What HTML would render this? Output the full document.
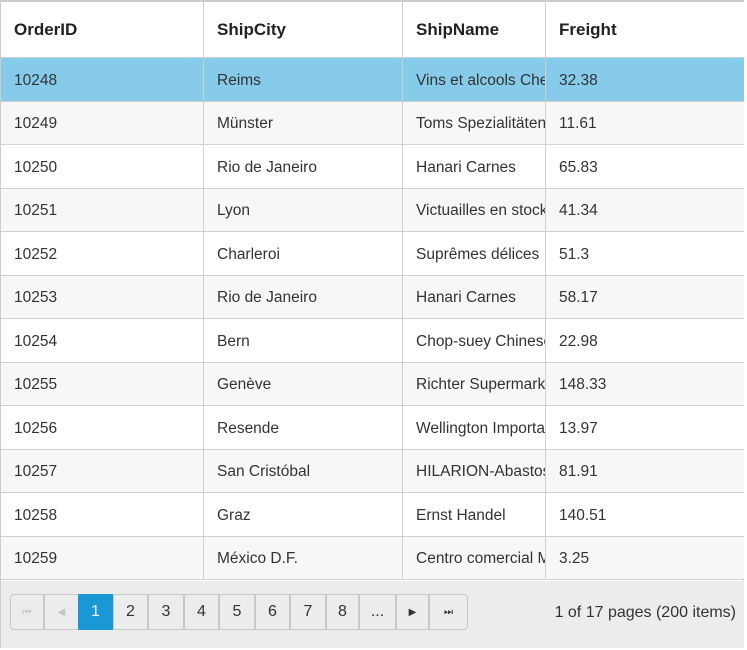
<!DOCTYPE html>
<html><head><meta charset="utf-8"><style>
body{margin:0;width:747px;height:650px;background:#fff;font-family:"Liberation Sans",sans-serif;overflow:hidden}
#grid{position:absolute;left:0;top:0;width:744px;height:648px;border:1px solid #ccc;border-top:2px solid #ccc;box-sizing:border-box}
.row{position:absolute;left:0;width:743px;border-bottom:1px solid #d0d0d0;box-sizing:border-box}
.cell{position:absolute;top:0;height:100%;display:flex;align-items:center;padding-left:13px;padding-top:3px;box-sizing:border-box;font-size:15.5px;color:#333;white-space:nowrap;overflow:hidden;border-left:1px solid #d0d0d0}
.hdr .cell{font-weight:bold;color:#222;font-size:17px;padding-top:1px}
#pager{position:absolute;left:0;top:579px;width:743px;height:67px;background:#ececec}
.pb{position:absolute;top:13px;height:36px;border:1px solid #c8c8c8;box-sizing:border-box;display:flex;align-items:center;justify-content:center;font-size:16px;color:#333;background:#ececec}
</style></head><body>
<div id="grid"></div>
<script>
const headers=["OrderID","ShipCity","ShipName","Freight"];
const ids=["10248","10249","10250","10251","10252","10253","10254","10255","10256","10257","10258","10259"];
const cities=["Reims","Münster","Rio de Janeiro","Lyon","Charleroi","Rio de Janeiro","Bern","Genève","Resende","San Cristóbal","Graz","México D.F."];
const names=["Vins et alcools Chevalier","Toms Spezialitäten","Hanari Carnes","Victuailles en stock","Suprêmes délices","Hanari Carnes","Chop-suey Chinese","Richter Supermarkt","Wellington Importadora","HILARION-Abastos","Ernst Handel","Centro comercial Moctezuma"];
const freight=["32.38","11.61","65.83","41.34","51.3","58.17","22.98","148.33","13.97","81.91","140.51","3.25"];
const colX=[0,202,401,544,743];
const g=document.getElementById('grid');
function mkRow(top,h,vals,cls,bg){
  const r=document.createElement('div');r.className='row '+cls;
  r.style.top=top+'px';r.style.height=h+'px';r.style.background=bg;
  
  
  vals.forEach((v,i)=>{const c=document.createElement('div');c.className='cell';
    c.style.left=colX[i]+'px';c.style.width=(colX[i+1]-colX[i])+'px';if(i===0)c.style.borderLeft='none';
    c.textContent=v;
    
    
    r.appendChild(c);});
  g.appendChild(r);
}
mkRow(0,56,headers,'hdr','#fff');
ids.forEach((id,i)=>{const top=56+i*43.5;
  mkRow(top,43.5,[id,cities[i],names[i],freight[i]],'dr',i===0?'#86cbea':(i%2?'#f7f7f7':'#fff'));});
const p=document.createElement('div');p.id='pager';


g.appendChild(p);
const btns=[["⏮",9,34],["◀",43,35],["1",77,35],["2",112,35],["3",147,36],["4",183,35],["5",218,36],["6",254,35],["7",289,36],["8",325,33],["...",358,37],["▶",395,33],["⏭",428,39]];
btns.forEach((b,i)=>{const e=document.createElement('div');e.className='pb';
  e.style.left=b[1]+'px';e.style.width=b[2]+'px';e.textContent=b[0];
  if(i<2){e.style.color='#c4c4c4';e.style.fontSize='10px';}
  if(i>10){e.style.fontSize='10px';}
  if(i===2){e.style.background='#1a98d5';e.style.color='#fff';e.style.borderColor='#1a98d5';}
  if(i===0)e.style.borderRadius='4px 0 0 4px';
  if(i===12)e.style.borderRadius='0 4px 4px 0';
  
  
  p.appendChild(e);});
const info=document.createElement('div');
info.style.cssText='position:absolute;right:8px;top:23px;font-size:16px;color:#333';
info.textContent='1 of 17 pages (200 items)';


p.appendChild(info);
</script>
</body></html>
